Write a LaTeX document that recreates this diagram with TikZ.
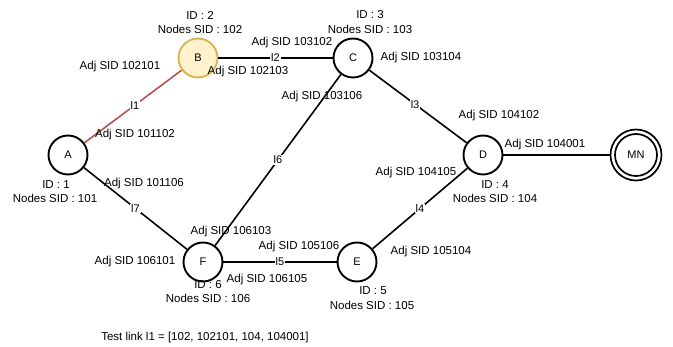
\documentclass[tikz,border=0pt]{standalone}
\usepackage{fontspec}
\setmainfont{Liberation Sans}
\definecolor{bfill}{HTML}{FFF2CC}
\definecolor{bstroke}{HTML}{D6B656}
\definecolor{redline}{HTML}{B85450}
\begin{document}
\begin{tikzpicture}[x=1pt,y=-1pt,
  router/.style={circle,draw=black,line width=1.9pt,minimum size=39pt,inner sep=0pt,font=\fontsize{11}{12}\selectfont},
  link/.style={line width=1.6pt,black},
  lbl/.style={font=\fontsize{11.5}{13}\selectfont,inner sep=0pt,anchor=center},
  elbl/.style={fill=white,font=\fontsize{11}{12}\selectfont,inner sep=0.8pt,anchor=center}]
\useasboundingbox (0,0) rectangle (673,347);
% nodes
\node[router] (A) at (68,155) {A};
\node[router,fill=bfill,draw=bstroke] (B) at (198,58) {B};
\node[router] (C) at (353,58) {C};
\node[router] (D) at (483,155) {D};
\node[router] (E) at (357,262) {E};
\node[router] (F) at (203,262) {F};
\node[circle,draw=black,line width=1.7pt,minimum size=51pt,inner sep=0pt] (MNo) at (636,155) {};
\node[circle,draw=black,line width=1.7pt,minimum size=42pt,inner sep=0pt,font=\fontsize{11}{12}\selectfont] (MN) at (636,155) {MN};
% links
\draw[link,draw=redline] (A) -- node[elbl,pos=0.52] (l1) {l1} (B);
\draw[link] (B) -- node[elbl] (l2) {l2} (C);
\draw[link] (C) -- node[elbl,pos=0.47] (l3) {l3} (D);
\draw[link] (D) -- node[elbl] (l4) {l4} (E);
\draw[link] (F) -- node[elbl] (l5) {l5} (E);
\draw[link] (C) -- node[elbl] (l6) {l6} (F);
\draw[link] (A) -- node[elbl] (l7) {l7} (F);
\draw[link] (D) -- (MNo);
% node info
\node[lbl] (id2) at (200,15) {ID : 2};
\node[lbl] (sid2) at (200,29) {Nodes SID : 102};
\node[lbl] (id3) at (370,15) {ID : 3};
\node[lbl] (sid3) at (370,29) {Nodes SID : 103};
\node[lbl] (id1) at (56,185) {ID : 1};
\node[lbl] (sid1) at (55,198) {Nodes SID : 101};
\node[lbl] (id4) at (495,185) {ID : 4};
\node[lbl] (sid4) at (495,198) {Nodes SID : 104};
\node[lbl] (id6) at (208,285) {ID : 6};
\node[lbl] (sid6) at (208,298) {Nodes SID : 106};
\node[lbl] (id5) at (373,291) {ID : 5};
\node[lbl] (sid5) at (372,305) {Nodes SID : 105};
% adjacency SIDs
\node[lbl] (a102101) at (120,67) {Adj SID 102101};
\node[lbl] (a103102) at (292,43) {Adj SID 103102};
\node[lbl] (a102103) at (248,72) {Adj SID 102103};
\node[lbl] (a103106) at (322,97) {Adj SID 103106};
\node[lbl] (a101102) at (135,135) {Adj SID 101102};
\node[lbl] (a103104) at (421,58) {Adj SID 103104};
\node[lbl] (a104102) at (499,116) {Adj SID 104102};
\node[lbl] (a104001) at (545,145) {Adj SID 104001};
\node[lbl] (a104105) at (416,173) {Adj SID 104105};
\node[lbl] (a101106) at (144,184) {Adj SID 101106};
\node[lbl] (a106103) at (231,232) {Adj SID 106103};
\node[lbl] (a105106) at (299,247) {Adj SID 105106};
\node[lbl] (a106101) at (135,262) {Adj SID 106101};
\node[lbl] (a106105) at (267,280) {Adj SID 106105};
\node[lbl] (a105104) at (431,252) {Adj SID 105104};
% caption
\node[lbl] (test) at (205,338) {Test link l1 = [102, 102101, 104, 104001]};
\end{tikzpicture}
\end{document}
